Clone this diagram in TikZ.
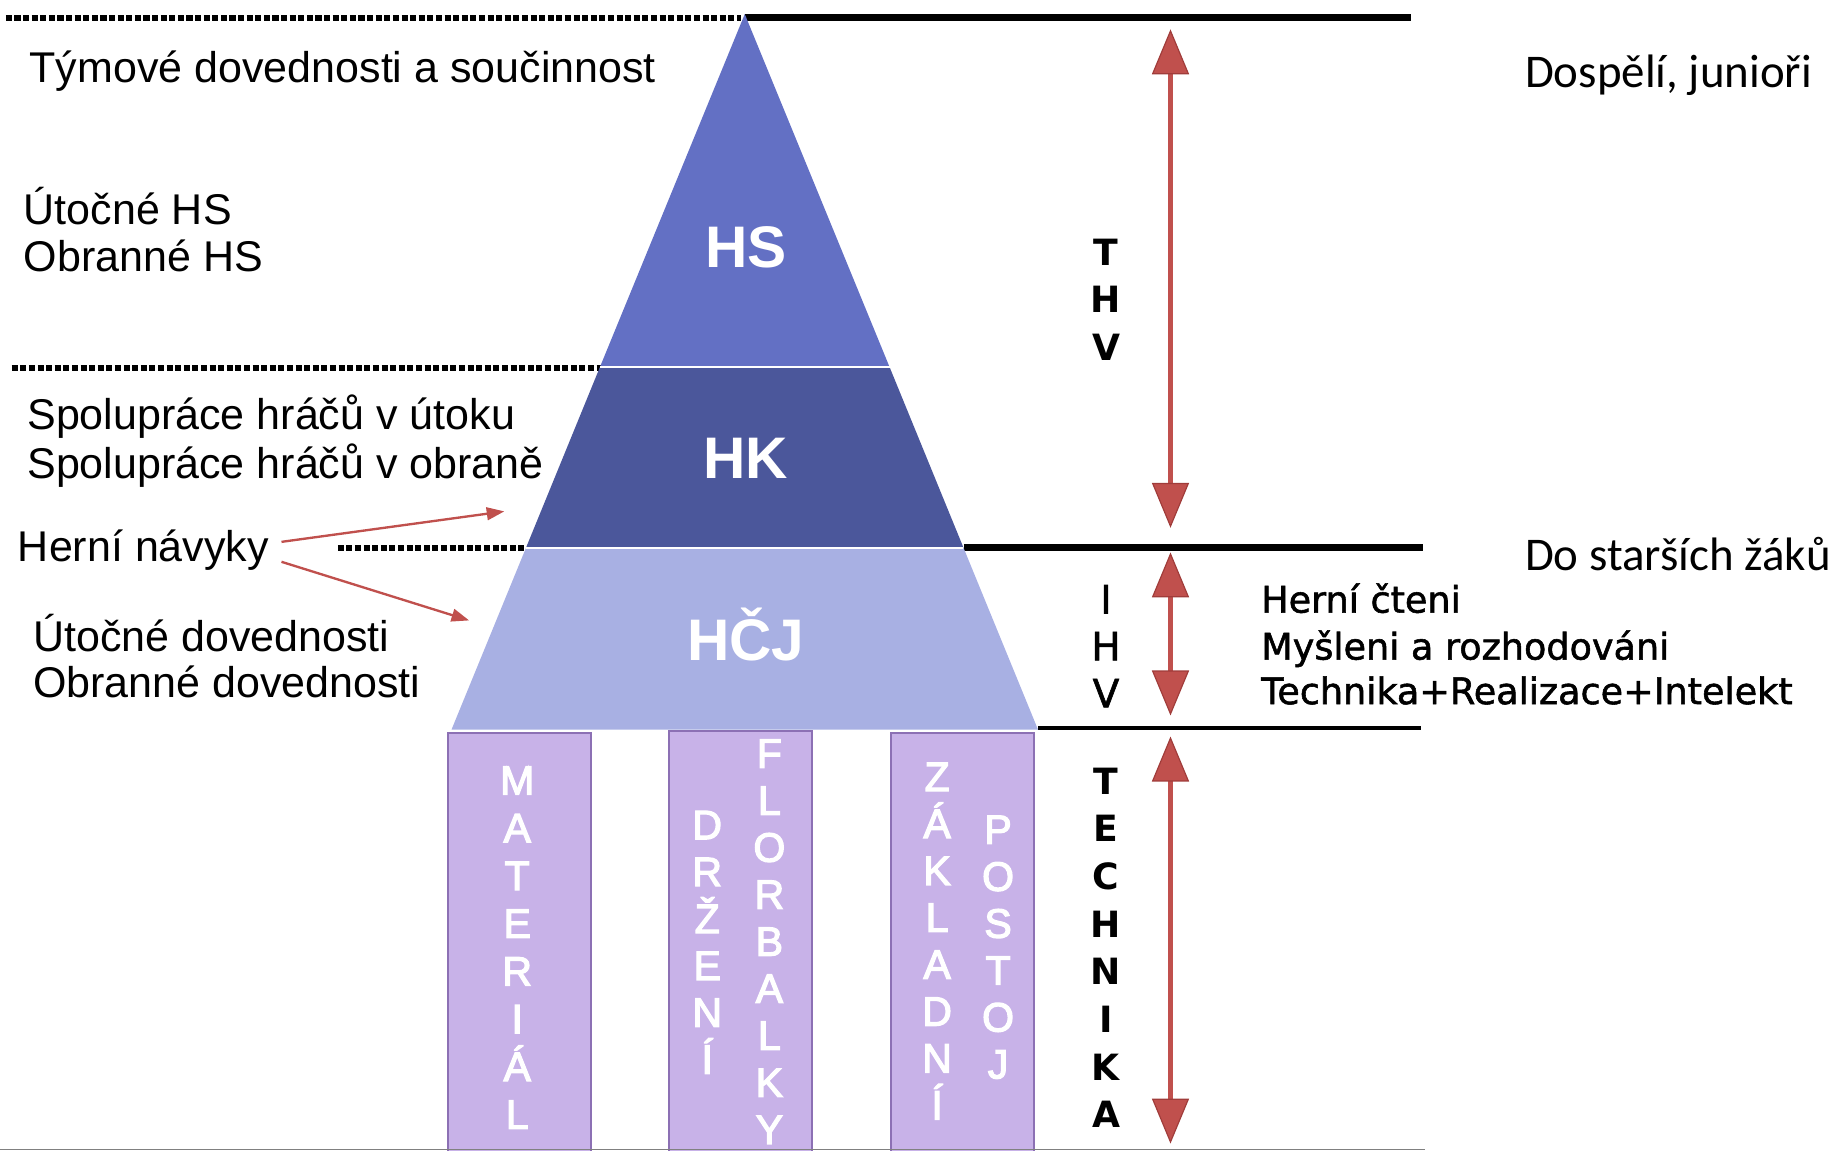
\documentclass[tikz,border=0pt]{standalone}
\usepackage{fontspec}
\setmainfont{Liberation Sans}
\newfontfamily\calibrifont{Carlito}
\newfontfamily\tahomafont{DejaVu Sans}
\newfontfamily\tahomaheavy[FakeBold=1.5]{DejaVu Sans}
\newfontfamily\colfont[FakeBold=3]{Liberation Sans}
\usetikzlibrary{arrows.meta}
\definecolor{hscol}{RGB}{99,112,196}
\definecolor{hkcol}{RGB}{75,87,155}
\definecolor{hcjcol}{RGB}{168,176,227}
\definecolor{colfill}{RGB}{200,178,232}
\definecolor{coledge}{RGB}{140,112,180}
\definecolor{arrred}{RGB}{192,80,77}
\definecolor{arrdark}{RGB}{160,60,58}
\tikzset{
  lefttext/.style={anchor=west,inner sep=0pt,text height=15.75pt,text depth=0pt,font=\fontsize{22}{26}\selectfont},
  righttext/.style={anchor=west,inner sep=0pt,text height=13.6pt,text depth=0pt,font=\tahomaheavy\fontsize{18.7}{22}\selectfont},
  agetext/.style={anchor=west,inner sep=0pt,text height=15.2pt,text depth=0pt,font=\calibrifont\fontsize{24}{28}\selectfont},
  biglabel/.style={anchor=center,inner sep=0pt,text height=21.5pt,text depth=0pt,text=white,font=\bfseries\fontsize{30}{34}\selectfont},
  boldletter/.style={anchor=center,inner sep=0pt,text height=13.5pt,text depth=0pt,font=\tahomafont\bfseries\fontsize{18.5}{22}\selectfont},
  thinletter/.style={anchor=center,inner sep=0pt,text height=14.5pt,text depth=0pt,font=\tahomaheavy\fontsize{20}{24}\selectfont},
  colletter/.style={anchor=center,inner sep=0pt,text height=15pt,text depth=0pt,text=white,font=\colfont\fontsize{21}{25}\selectfont},
  colbox/.style={fill=colfill,draw=coledge,line width=1pt},
  dotline/.style={line width=3.1pt,dash pattern=on 3.1pt off 1.3pt},
  solidline/.style={line width=3.4pt},
  bigarrow/.style={arrred,line width=2.5pt,{Triangle[width=19pt,length=23pt,fill=arrred,color=arrdark,line width=0.6pt]}-{Triangle[width=19pt,length=23pt,fill=arrred,color=arrdark,line width=0.6pt]}},
  smallarrow/.style={arrred,line width=1.2pt,-{Triangle[width=6.5pt,length=9pt]}}
}
\begin{document}
\begin{tikzpicture}[x=0.6pt,y=-0.6pt]
\useasboundingbox (0,0) rectangle (1568,981);

% guide lines
\draw[dotline] (5,15) -- (632,15);
\draw[solidline] (635,15) -- (1203,15);
\draw[dotline] (10,314) -- (515,314);
\draw[dotline] (288,467) -- (447,467);
\draw[solidline] (822,467) -- (1213,467);
\draw[line width=2pt] (885,621) -- (1212,621);

% pyramid
\coordinate (apex) at (635,12);
\coordinate (hsL) at (511.5,313);
\coordinate (hsR) at (758.5,313);
\coordinate (hkL) at (448.5,467);
\coordinate (hkR) at (821.5,467);
\coordinate (hcL) at (385,622);
\coordinate (hcR) at (885,622);
\fill[hscol] (apex) -- (hsR) -- (hsL) -- cycle;
\fill[hkcol] (hsL) -- (hsR) -- (hkR) -- (hkL) -- cycle;
\fill[hcjcol] (hkL) -- (hkR) -- (hcR) -- (hcL) -- cycle;
\draw[white,line width=1.1pt] (hsL) -- (hsR);
\draw[white,line width=1.1pt] (hkL) -- (hkR);

\node[biglabel] (hs) at (636,210) {HS};
\node[biglabel] (hk) at (636,390) {HK};
\node[biglabel] (hcj) at (636,545) {HČJ};

% columns
\draw[colbox] (382,625) rectangle (504,983);
\draw[colbox] (570,623) rectangle (692,983);
\draw[colbox] (760,625) rectangle (882,983);

\foreach \ch [count=\i] in {M,A,T,E,R,I,Á,L}
  \node[colletter] (mat\i) at (441,{665+40.7*(\i-1)}) {\ch};
\foreach \ch [count=\i] in {D,R,Ž,E,N,Í}
  \node[colletter] (drz\i) at (603,{703+40*(\i-1)}) {\ch};
\foreach \ch [count=\i] in {F,L,O,R,B,A,L,K,Y}
  \node[colletter] (flo\i) at (656,{642+40.1*(\i-1)}) {\ch};
\foreach \ch [count=\i] in {Z,Á,K,L,A,D,N,Í}
  \node[colletter] (zak\i) at (799,{662+40*(\i-1)}) {\ch};
\foreach \ch [count=\i] in {P,O,S,T,O,J}
  \node[colletter] (pos\i) at (851,{707+40*(\i-1)}) {\ch};

\draw[gray,line width=0.9pt] (0,980) -- (1215,980);

% left texts
\node[lefttext] (tym) at (25,57) {Týmové dovednosti a součinnost};
\node[lefttext] (uths) at (20,178) {Útočné HS};
\node[lefttext] (obhs) at (20,218) {Obranné HS};
\node[lefttext] (spu) at (23,353) {Spolupráce hráčů v útoku};
\node[lefttext] (spo) at (23,395) {Spolupráce hráčů v obraně};
\node[lefttext] (herni) at (15,466) {Herní návyky};
\node[lefttext] (utd) at (28,542) {Útočné dovednosti};
\node[lefttext] (obd) at (28,582) {Obranné dovednosti};

% small arrows
\coordinate (a1s) at (240,462);
\coordinate (a1e) at (430,436);
\coordinate (a2s) at (240,479);
\coordinate (a2e) at (400,529);
\draw[smallarrow] (a1s) -- (a1e);
\draw[smallarrow] (a2s) -- (a2e);

% THV
\foreach \ch [count=\i] in {T,H,V}
  \node[boldletter] (thv\i) at (943,{215+40.5*(\i-1)}) {\ch};
\foreach \ch [count=\i] in {I,H,V}
  \node[thinletter] (ihv\i) at (943,{511+40*(\i-1)}) {\ch};
\foreach \ch [count=\i] in {T,E,C,H,N,I,K,A}
  \node[boldletter] (tech\i) at (943,{666+40.6*(\i-1)}) {\ch};

% big arrows
\coordinate (b1t) at (998,25);
\coordinate (b1b) at (998,450);
\coordinate (b2t) at (998,471);
\coordinate (b2b) at (998,610);
\coordinate (b3t) at (998,628);
\coordinate (b3b) at (998,975);
\draw[bigarrow] (b1t) -- (b1b);
\draw[bigarrow] (b2t) -- (b2b);
\draw[bigarrow] (b3t) -- (b3b);

% right texts
\node[agetext] (dosp) at (1300,62) {Dospělí, junioři};
\node[agetext] (star) at (1300,474) {Do starších žáků};
\node[righttext] (cteni) at (1075,511) {Herní čteni};
\node[righttext] (mysl) at (1075,551) {Myšleni a rozhodováni};
\node[righttext] (tech) at (1075,589) {Technika+Realizace+Intelekt};
\end{tikzpicture}
\end{document}
